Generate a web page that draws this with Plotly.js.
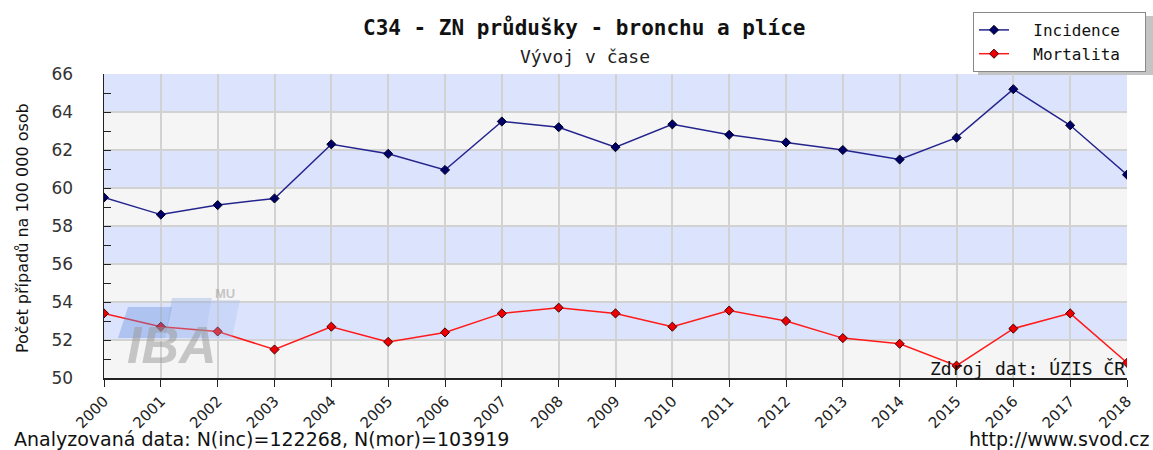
<!DOCTYPE html>
<html><head><meta charset="utf-8">
<script src="https://cdn.plot.ly/plotly-3.0.1.min.js"></script>
<style>body{margin:0;background:#fff}#c{width:1153px;height:450px}</style>
</head><body><div id="c"></div>
<script>
const years = ["2000","2001","2002","2003","2004","2005","2006","2007","2008","2009","2010","2011","2012","2013","2014","2015","2016","2017","2018"];
const incidence = [59.5,58.6,59.1,59.45,62.3,61.8,60.95,63.5,63.2,62.15,63.35,62.8,62.4,62.0,61.5,62.65,65.2,63.3,60.7];
const mortalita = [53.4,52.7,52.45,51.5,52.7,51.9,52.4,53.4,53.7,53.4,52.7,53.55,53.0,52.1,51.8,50.65,52.6,53.4,50.8];
const yTicks = [50,52,54,56,58,60,62,64,66];
const seriesNames = ["Incidence","Mortalita"];

const mono = "DejaVu Sans Mono, Liberation Mono, monospace";
const sans = "DejaVu Sans, Liberation Sans, sans-serif";

// plot area in pixels, used to place decorations in paper coordinates
const W = 1153, H = 450;
const L = 104, R = 1127, T = 74, B = 378;
const px = x => (x - L) / (R - L);
const py = y => (B - y) / (B - T);
const pad = s => "\u00a0\u00a0" + s + "\u00a0\u00a0";

const traces = [
  {x: years, y: incidence, name: pad(seriesNames[0]), type:"scatter", mode:"lines+markers",
   line:{color:"#24248f", width:1.5},
   marker:{symbol:"diamond", size:7, color:"#000066", line:{color:"#000022", width:1}}},
  {x: years, y: mortalita, name: pad(seriesNames[1]), type:"scatter", mode:"lines+markers",
   line:{color:"#ff1a1a", width:1.5},
   marker:{symbol:"diamond", size:7, color:"#ee0000", line:{color:"#440000", width:1}}}
];

const shapes = [];
for (let i = 0; i < yTicks.length - 1; i++) {
  const blue = (yTicks.length - 2 - i) % 2 === 0;
  shapes.push({type:"rect", xref:"paper", yref:"y", x0:0, x1:1, y0:yTicks[i], y1:yTicks[i+1],
    fillcolor: blue ? "#dce3fc" : "#f5f5f5", line:{width:0}, layer:"below"});
}
// legend shadow
shapes.push({type:"rect", xref:"paper", yref:"paper", x0:px(978), x1:px(1153), y0:py(75), y1:py(16), fillcolor:"#c4c4c4", line:{width:0}, layer:"below"});
// watermark blocks
const poly = pts => "M " + pts.map(p => px(p[0]) + " " + py(p[1])).join(" L ") + " Z";
shapes.push({type:"path", xref:"paper", yref:"paper", path:poly([[118,338],[165,338],[172,307],[128,307]]), fillcolor:"rgba(100,145,220,0.38)", line:{width:0}, layer:"above"});
shapes.push({type:"path", xref:"paper", yref:"paper", path:poly([[165,338],[205,338],[212,298],[172,298]]), fillcolor:"rgba(130,165,228,0.33)", line:{width:0}, layer:"above"});
shapes.push({type:"path", xref:"paper", yref:"paper", path:poly([[205,338],[232,338],[240,300],[212,300]]), fillcolor:"rgba(165,190,238,0.3)", line:{width:0}, layer:"above"});

const layout = {
  width:W, height:H,
  margin:{l:L, r:W-R, t:T, b:H-B, autoexpand:false},
  paper_bgcolor:"#ffffff", plot_bgcolor:"#f5f5f5",
  showlegend:true,
  legend:{xref:"container", yref:"container", x:973/W, xanchor:"left", y:1-12/H, yanchor:"top",
          bgcolor:"#ffffff", bordercolor:"#888888", borderwidth:1,
          font:{family:mono, size:16, color:"#111"}, tracegroupgap:2},
  xaxis:{type:"category", range:[0,18], showline:true, linecolor:"#222", linewidth:1.5,
         ticks:"outside", ticklen:7, tickcolor:"#222", tickangle:-45,
         tickfont:{family:sans, size:15, color:"#222"},
         showgrid:true, gridcolor:"#d2d2d2", gridwidth:2, zeroline:false, fixedrange:true, automargin:false},
  yaxis:{range:[50,66], tickvals:yTicks, showline:true, linecolor:"#222", linewidth:1.5,
         ticks:"inside", ticklen:7, tickcolor:"#222",
         minor:{dtick:1, tick0:50, ticks:"inside", ticklen:7, tickcolor:"#222", showgrid:false},
         tickfont:{family:sans, size:17, color:"#333"}, ticklabelstandoff:26,
         showgrid:true, gridcolor:"#d2d2d2", gridwidth:2, zeroline:false, automargin:false},
  shapes: shapes,
  annotations:[
    {text:"<b>C34 - ZN průdušky - bronchu a plíce</b>", xref:"paper", yref:"paper", x:px(584), y:py(28), xanchor:"center", yanchor:"middle", showarrow:false, font:{family:mono, size:21, color:"#111"}},
    {text:"Vývoj v čase", xref:"paper", yref:"paper", x:px(585), y:py(56), xanchor:"center", yanchor:"middle", showarrow:false, font:{family:mono, size:18, color:"#222"}},
    {text:"Počet případů na 100 000 osob", xref:"paper", yref:"paper", x:px(22), y:py(228), xanchor:"center", yanchor:"middle", textangle:-90, showarrow:false, font:{family:sans, size:16, color:"#111"}},
    {text:"Zdroj dat: ÚZIS ČR", xref:"paper", yref:"paper", x:px(1127), y:py(368), xanchor:"right", yanchor:"middle", showarrow:false, font:{family:mono, size:18, color:"#111"}},
    {text:"Analyzovaná data: N(inc)=122268, N(mor)=103919", xref:"paper", yref:"paper", x:px(12), y:py(439), xanchor:"left", yanchor:"middle", showarrow:false, font:{family:sans, size:19, color:"#111"}},
    {text:"http://www.svod.cz", xref:"paper", yref:"paper", x:px(1151), y:py(439), xanchor:"right", yanchor:"middle", showarrow:false, font:{family:sans, size:19, color:"#111"}},
    {text:"<i><b>IBA</b></i>", xref:"paper", yref:"paper", x:px(172), y:py(345), xanchor:"center", yanchor:"middle", showarrow:false, font:{family:"Liberation Sans, sans-serif", size:52, color:"rgba(150,150,150,0.5)"}},
    {text:"<b>MU</b>", xref:"paper", yref:"paper", x:px(225), y:py(293), xanchor:"center", yanchor:"middle", showarrow:false, font:{family:"Liberation Sans, sans-serif", size:13, color:"rgba(150,150,150,0.5)"}}
  ]
};

Plotly.newPlot("c", traces, layout, {displayModeBar:false, staticPlot:true});
</script></body></html>
